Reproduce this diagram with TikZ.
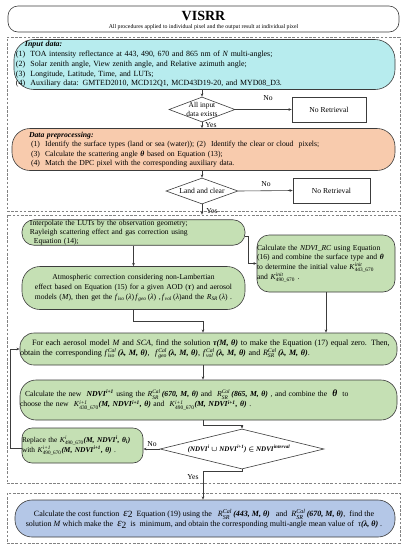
\documentclass[tikz,border=0pt]{standalone}
\usepackage{amsmath}
\usepackage{fontspec}
\setmainfont{Liberation Serif}
\usetikzlibrary{arrows.meta,shapes.geometric,calc}
\definecolor{cyanbox}{RGB}{183,236,238}
\definecolor{orangebox}{RGB}{248,203,173}
\definecolor{greenbox}{RGB}{197,224,180}
\definecolor{bluebox}{RGB}{180,199,231}
\definecolor{linec}{RGB}{60,60,60}
\definecolor{dashc}{RGB}{130,130,130}
\newcommand\bodyfs{\fontsize{7.8}{9.4}\selectfont}
\newcommand\bi[1]{\textbf{\textit{#1}}}
\newcommand\sps[2]{\ensuremath{^{\text{#1}}_{\text{#2}}}}
\newcommand\sbs[1]{\ensuremath{_{\text{#1}}}}
\newcommand\spp[1]{\ensuremath{^{\text{#1}}}}
\newcommand\epstwo{{\fontsize{11}{10}\selectfont\textit{ε}}{\fontsize{9.5}{9}\selectfont\raisebox{-1.3pt}{2}}}
\begin{document}
\begin{tikzpicture}[x=1pt,y=-1pt,
  line/.style={draw=linec, line width=0.6pt},
  arr/.style={line, -{Stealth[length=3.2pt,width=2.6pt]}},
  rbox/.style={draw=linec, line width=0.6pt, inner sep=0pt, font=\bodyfs},
  gbox/.style={rbox, fill=greenbox},
  dbox/.style={draw=dashc, dash pattern=on 2.6pt off 1.6pt, line width=0.6pt, inner sep=0pt},
  dia/.style={draw=linec, fill=white, line width=0.6pt, shape=diamond, inner sep=0pt},
  nrbox/.style={draw=linec, fill=white, line width=0.6pt, inner sep=0pt, font=\fontsize{7.6}{9}\selectfont},
  lbl/.style={inner sep=0pt, font=\fontsize{7.6}{9}\selectfont},
]
\useasboundingbox (0,0) rectangle (403,550);
\fill[white] (0,0) rectangle (403,550);

% dashed groups
\node[dbox, minimum width=393pt, minimum height=174pt] (grp1) at (203.5,124) {};
\node[dbox, minimum width=393pt, minimum height=268pt] (grp2) at (203.5,349) {};
\node[dbox, minimum width=393pt, minimum height=50pt] (grp3) at (203.5,518) {};

% title
\node[rbox, fill=white, rounded corners=10pt, minimum width=391pt, minimum height=26pt] (top) at (203.5,19) {};
\node[inner sep=0pt, font=\fontsize{14}{14}\selectfont\bfseries] (title) at (203.5,15.5) {VISRR};
\node[inner sep=0pt, font=\fontsize{5.8}{7}\selectfont] (subt) at (203.5,27) {All procedures applied to individual pixel and the output result at individual pixel};

% input data
\node[rbox, fill=cyanbox, rounded corners=20pt, minimum width=381pt, minimum height=50pt, text width=377pt, align=left, font=\fontsize{7.9}{9.8}\selectfont] (inp) at (204.5,64.5) {%
\hspace*{9pt}\textbf{\textit{Input data:}}\\
(1)~~TOA intensity reflectance at 443, 490, 670 and 865 nm of \textit{N} multi-angles;\\
(2)~~Solar zenith angle, View zenith angle, and Relative azimuth angle;\\
(3)~~Longitude, Latitude, Time, and LUTs;\\
(4)~~Auxiliary data: GMTED2010, MCD12Q1, MCD43D19-20, and MYD08\_D3.};

\node[dia, minimum width=66pt, minimum height=25pt] (d1) at (202,109.5) {};
\node[lbl, align=center, font=\fontsize{7.4}{8.4}\selectfont] (d1t) at (202,109.5) {All input\\data exists};
\node[nrbox, minimum width=74pt, minimum height=25pt] (nr1) at (329,109.5) {No Retrieval};

% preprocessing
\node[rbox, fill=orangebox, rounded corners=18pt, minimum width=383pt, minimum height=42pt, text width=349pt, align=left, font=\fontsize{7.7}{9.5}\selectfont] (pre) at (203.5,149.5) {%
\textbf{\textit{Data preprocessing:}}\\
\hspace*{2pt}(1)~~Identify the surface types (land or sea (water)); (2)~~Identify the clear or cloud~~pixels;\\
\hspace*{2pt}(3)~~Calculate the scattering angle \bi{θ} based on Equation (13);\\
\hspace*{2pt}(4)~~Match the DPC pixel with the corresponding auxiliary data.};

\node[dia, minimum width=72pt, minimum height=26pt] (d2) at (202,191) {};
\node[lbl] (d2t) at (202,191) {Land and clear};
\node[nrbox, minimum width=77pt, minimum height=25pt] (nr2) at (331.5,190.5) {No Retrieval};

% processing boxes
\node[gbox, rounded corners=12pt, minimum width=223pt, minimum height=25pt, text width=207pt, align=left, font=\fontsize{7.6}{9.3}\selectfont] (lut) at (133.5,232.5) {%
Interpolate the LUTs by the observation geometry;\\
Rayleigh scattering effect and gas correction using\\
\hspace*{4pt}Equation (14);};

\node[gbox, rounded corners=12pt, minimum width=138pt, minimum height=57pt, text width=138pt, align=left, font=\fontsize{7.6}{9.6}\selectfont] (ndvi) at (326,263.5) {%
Calculate the \textit{NDVI\_RC} using Equation\\
(16) and combine the surface type and \bi{θ}\\
to determine the initial value \textit{K}\sps{\itshape init}{443\_670}\\
and \textit{K}\sps{\itshape init}{490\_670} .};

\node[gbox, rounded corners=18pt, minimum width=223pt, minimum height=43pt, text width=223pt, align=center, font=\fontsize{7.6}{9.8}\selectfont] (atm) at (133.5,288) {%
Atmospheric correction considering non-Lambertian\\
effect based on Equation (15) for a given AOD (\bi{τ}) and aerosol\\
models (\textit{M}), then get the \textit{f}\sbs{\itshape iso}\,(\textit{λ})\,\textit{f}\sbs{\itshape geo}\,(\textit{λ}) ,\,\textit{f}\sbs{\itshape vol}\,(\textit{λ})and the \textit{R}\sbs{\itshape SR}\,(\textit{λ}) .};

\node[gbox, rounded corners=14pt, minimum width=377pt, minimum height=32pt, text width=377pt, align=left, font=\fontsize{8.1}{10}\selectfont] (fe) at (208.5,349) {%
\hspace*{12pt}For each aerosol model \textit{M} and \textit{SCA}, find the solution \bi{τ(M, θ)} to make the Equation (17) equal zero. Then,\\
obtain the corresponding \textit{f}\sps{\itshape Cal}{\itshape iso}\,\bi{(λ, M, θ)},~ \textit{f}\sps{\itshape Cal}{\itshape geo}\,\bi{(λ, M, θ)}, \textit{f}\sps{\itshape Cal}{\itshape vol}\,\bi{(λ, M, θ)} and \textit{R}\sps{\itshape Cal}{\itshape SR}\,\bi{(λ, M, θ)}.};

\node[gbox, rounded corners=16pt, minimum width=377pt, minimum height=40pt, text width=377pt, align=left, font=\fontsize{7.7}{10.2}\selectfont] (nn) at (208.5,400) {%
\hspace*{5pt}Calculate the new~ \bi{NDVI}\spp{\bfseries\itshape i+1} using the \textit{R}\sps{\itshape Cal}{\itshape SR}\,\bi{(670, M, θ)} and~ \textit{R}\sps{\itshape Cal}{\itshape SR}\,\bi{(865, M, θ)} , and combine the~ {\fontsize{9.5}{9}\selectfont\bi{θ}}~ to\\
choose the new~ \textit{K}\sps{\itshape i+1}{430\_670}\bi{(M, NDVI}\spp{\bfseries\itshape i+1}\bi{, θ)} and~ \textit{K}\sps{\itshape i+1}{490\_670}\bi{(M, NDVI}\spp{\bfseries\itshape i+1}\bi{, θ)} .};

\node[gbox, rounded corners=10pt, minimum width=121pt, minimum height=35pt, text width=121pt, align=left, font=\fontsize{7.4}{10}\selectfont] (rep) at (82.5,445.5) {%
Replace the \textit{K}\sps{\itshape i}{490\_670}\bi{(M, NDVI}\spp{\bfseries\itshape i}\bi{, θ}\sbs{\bfseries\itshape i}\bi{)}\\
with \textit{K}\sps{\itshape i+1}{490\_670}\bi{(M, NDVI}\spp{\bfseries\itshape i+1}\bi{, θ)} .};

\node[dia, minimum width=164pt, minimum height=40pt] (d3) at (242,449) {};
\node[lbl, font=\fontsize{7}{8}\selectfont] (d3t) at (239,449) {\bi{(NDVI}\spp{\bfseries\itshape i} $\boldsymbol{\cup}$ \bi{NDVI}\spp{\bfseries\itshape i+1}\bi{)} $\boldsymbol{\in}$ \bi{NDVI}\spp{\bfseries\itshape interval}};

% final
\node[rbox, fill=bluebox, rounded corners=17pt, minimum width=380pt, minimum height=37pt] (blue) at (205,518.5) {};
\node[inner sep=0pt, align=center, font=\fontsize{8}{10.4}\selectfont] (bluet) at (204,519) {%
Calculate the cost function~ \epstwo~ Equation (19) using the~~ \textit{R}\sps{\itshape Cal}{\itshape SR}\,\bi{(443, M, θ)}~~ and~ \textit{R}\sps{\itshape Cal}{\itshape SR}\,\bi{(670, M, θ)},~ find the\\
solution \textit{M} which make the~ \epstwo~ is~ minimum, and obtain the corresponding multi-angle mean value of~ \textit{τ}\bi{(λ, θ)} .};

% connectors
\draw[arr] (inp.south -| d1.north) -- (d1.north);
\draw[arr] (d1.east) -- (nr1.west);
\node[lbl] (no1) at (268,98) {No};
\draw[arr] (d1.south) -- (d1.south |- pre.north);
\node[lbl] (yes1) at (211,125.5) {Yes};
\draw[arr] (pre.south -| d2.north) -- (d2.north);
\draw[arr] (d2.east) -- (nr2.west);
\node[lbl] (no2) at (266,184) {No};
\draw[arr] (d2.south) -- (d2.south |- grp2.north);
\node[lbl] (yes2) at (212,211) {Yes};

\draw[arr] ([yshift=-3.5pt]lut.east) -- ++(3,0) |- (ndvi.west);
\draw[arr] (lut.south) -- (atm.north);
\draw[arr] (atm.south) -- ++(0,11) -| ([xshift=-5.5pt]fe.north);
\draw[arr] (ndvi.south) -- (ndvi.south |- fe.north);
\draw[arr] ([xshift=-5.5pt]fe.south) -- ([xshift=-5.5pt]nn.north);
\draw[arr] ([xshift=-5.5pt]nn.south) -- ++(0,5) -| (d3.north);
\draw[arr] (d3.west) -- (d3.west -| rep.east);
\node[lbl] (no3) at (152,444) {No};
\draw[arr] ([yshift=-2.5pt]rep.west) -- ++(-11,0) |- (fe.west);
\draw[arr] (d3.south) -- ++(0,2) -| ([xshift=-2pt]blue.north);
\node[lbl] (yes3) at (193,477) {Yes};
\end{tikzpicture}
\end{document}
